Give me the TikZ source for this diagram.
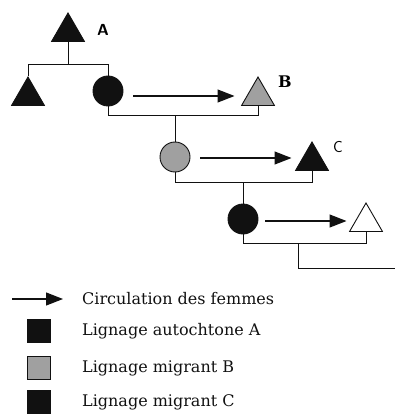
\documentclass[tikz,border=0pt]{standalone}
\usepackage{fontspec}
\setmainfont{DejaVu Serif}
\usetikzlibrary{shapes.geometric,arrows.meta}
\definecolor{fillgray}{RGB}{160,160,160}
\definecolor{ink}{RGB}{17,17,17}
\begin{document}
\begin{tikzpicture}[x=1pt,y=-1pt,
  tri/.style={regular polygon, regular polygon sides=3, minimum size=38pt, inner sep=0pt, draw=ink, line width=0.9pt},
  circ/.style={circle, minimum size=30pt, inner sep=0pt, draw=ink, line width=0.9pt},
  ln/.style={draw=ink, line width=1pt},
  flow/.style={draw=ink, line width=1.2pt, -{Triangle[length=17pt,width=13pt]}},
  lab/.style={font=\fontsize{16}{18}\selectfont\bfseries, inner sep=0pt},
  legtext/.style={anchor=west, inner sep=0pt, font=\fontsize{16}{19}\selectfont, text=ink},
  legbox/.style={minimum size=23pt, inner sep=0pt, draw=ink, line width=0.8pt}]
\useasboundingbox (0,0) rectangle (395,414);
% nodes
\node[tri, fill=ink] (A) at (68,32) {};
\node[tri, fill=ink] (L) at (28,96) {};
\node[circ, fill=ink] (M1) at (108,91) {};
\node[tri, fill=fillgray] (B) at (258,96) {};
\node[circ, fill=fillgray] (M2) at (175,157) {};
\node[tri, fill=ink] (C) at (312,161) {};
\node[circ, fill=ink] (M3) at (243,219) {};
\node[tri, fill=white] (D) at (366,222) {};
% labels
\node[lab, font=\fontsize{16}{18}\selectfont\sffamily\bfseries] (la) at (103,30) {A};
\node[lab] (lb) at (285,82) {B};
\node[lab, font=\fontsize{16}{18}\selectfont\sffamily] (lc) at (338,147) {C};
% junction coordinates
\coordinate (j1) at (68,65);
\coordinate (j1l) at (28,65);
\coordinate (j1r) at (108,65);
\coordinate (j2l) at (108,116);
\coordinate (j2r) at (258,116);
\coordinate (j2m) at (175,116);
\coordinate (j3l) at (175,182);
\coordinate (j3r) at (312,182);
\coordinate (j3m) at (243,182);
\coordinate (j4l) at (243,243);
\coordinate (j4r) at (366,243);
\coordinate (j4m) at (298,243);
\coordinate (j4d) at (298,268);
\coordinate (j4e) at (395,268);
% kinship lines
\draw[ln] (A.south) -- (j1);
\draw[ln] (L.north) -- (j1l) -- (j1r) -- (M1.north);
\draw[ln] (M1.south) -- (j2l) -- (j2r) -- (B.south);
\draw[ln] (j2m) -- (M2.north);
\draw[ln] (M2.south) -- (j3l) -- (j3r) -- (C.south);
\draw[ln] (j3m) -- (M3.north);
\draw[ln] (M3.south) -- (j4l) -- (j4r) -- (D.south);
\draw[ln] (j4m) -- (j4d) -- (j4e);
% flows
\draw[flow] ([shift={(10pt,-5pt)}]M1.east) -- ([shift={(-12pt,0pt)}]B.west);
\draw[flow] ([shift={(10pt,-1pt)}]M2.east) -- ([shift={(-9pt,3pt)}]C.west);
\draw[flow] ([shift={(7pt,-2pt)}]M3.east) -- ([shift={(-8pt,1pt)}]D.west);
% legend
\coordinate (la0) at (12,299);
\coordinate (la1) at (63,299);
\draw[flow] (la0) -- (la1);
\node[legtext] (t0) at (82,299) {Circulation des femmes};
\node[legbox, fill=ink] (s1) at (38.5,331) {};
\node[legtext] (t1) at (82,331) {Lignage autochtone A};
\node[legbox, fill=fillgray] (s2) at (38.5,368) {};
\node[legtext] (t2) at (82,368) {Lignage migrant B};
\node[legbox, fill=ink] (s3) at (38.5,402) {};
\node[legtext] (t3) at (82,402) {Lignage migrant C};
\end{tikzpicture}
\end{document}
